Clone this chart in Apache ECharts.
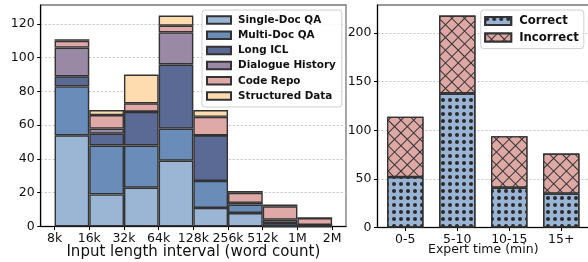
<!DOCTYPE html>
<html>
<head>
<meta charset="utf-8">
<script src="https://cdn.jsdelivr.net/npm/echarts@6/dist/echarts.min.js"></script>
<style>
  html, body { margin: 0; padding: 0; background: #fff; }
  #chart { width: 588px; height: 262px; }
</style>
</head>
<body>
<div id="chart"></div>
<script>
// left panel: task mix per input length bin
const lenEdges = ['8k', '16k', '32k', '64k', '128k', '256k', '512k', '1M', '2M'];
const singleDoc = [54, 19, 23, 39, 11, 8, 0, 0];
const multiDoc = [29, 29, 25, 19, 16, 5, 0, 0];
const longICL = [6, 7, 20, 38, 27, 1, 2, 1];
const dialogue = [17, 3, 0, 19, 0, 0, 2, 0];
const codeRepo = [4, 8, 5, 4, 11, 6, 8, 4];
const structured = [1, 3, 17, 6, 4, 1, 1, 0];
const leftTicks = [0, 20, 40, 60, 80, 100, 120];

// right panel: correctness per expert time
const timeBins = ['0-5', '5-10', '10-15', '15+'];
const correct = [52, 138, 41, 35];
const incorrect = [62, 80, 53, 41];
const rightTicks = [0, 50, 100, 150, 200];

const font = 'DejaVu Sans';
const edge = '#333';

// left grid geometry
const L = { left: 40.7, top: 5, width: 305.3, height: 221.5 };
const lxMin = -0.4, lxMax = 8.4;
const binPx = L.width / (lxMax - lxMin);
// right grid geometry
const R = { left: 377.5, top: 5, width: 211.6, height: 222.5 };
const rxMin = -0.535, rxMax = 3.535;
const rUnit = R.width / (rxMax - rxMin);

// data rows are [value, position] so the stacked dimension is the value one
const leftSeries = [
  ['Single-Doc QA', singleDoc, '#9bb5d5'],
  ['Multi-Doc QA', multiDoc, '#6a8cb8'],
  ['Long ICL', longICL, '#5b6a95'],
  ['Dialogue History', dialogue, '#9a89a4'],
  ['Code Repo', codeRepo, '#dea9a7'],
  ['Structured Data', structured, '#fedcb0']
].map(function (s) {
  return {
    name: s[0], type: 'bar', stack: 'len',
    xAxisIndex: 0, yAxisIndex: 0,
    barWidth: binPx,
    encode: { x: 1, y: 0 },
    data: s[1].map(function (v, i) { return [v, i + 0.5]; }),
    itemStyle: { color: s[2], borderColor: edge, borderWidth: 1.4 }
  };
});

const dots = {
  symbol: 'circle', color: '#2a2a2a', symbolSize: 1,
  dashArrayX: [3.4, 2.5], dashArrayY: [3.2, 2.1]
};
const cross = {
  symbol: 'rect', color: '#dea8a5', backgroundColor: '#333', symbolSize: 1,
  dashArrayX: [7.4, 1], dashArrayY: [7.4, 1], rotation: Math.PI / 4
};

const rightSeries = [
  ['Correct', correct, '#9ab4d6', dots],
  ['Incorrect', incorrect, '#dea8a5', cross]
].map(function (s) {
  return {
    name: s[0], type: 'bar', stack: 'time',
    xAxisIndex: 1, yAxisIndex: 1,
    barWidth: 0.7 * rUnit,
    encode: { x: 1, y: 0 },
    data: s[1].map(function (v, i) { return [v, i]; }),
    itemStyle: { color: s[2], borderColor: edge, borderWidth: 1.3, decal: s[3] }
  };
});

function yAxis(gi, max, ticks) {
  return {
    type: 'value', gridIndex: gi, min: 0, max: max, interval: ticks[1] - ticks[0],
    axisLine: { show: true, onZero: false, lineStyle: { color: '#000', width: 1.2 } },
    axisTick: { show: true, length: 3.5, customValues: ticks, lineStyle: { color: '#000' } },
    axisLabel: { customValues: ticks, margin: 6, color: '#111', fontSize: 12.5, fontFamily: font },
    splitLine: { show: true, lineStyle: { color: '#c4c4c4', type: [2, 2], width: 1 } }
  };
}

function xAxis(gi, min, max, labels, name, nameSize, nameGap) {
  const pos = labels.map(function (_, i) { return i; });
  return {
    type: 'value', gridIndex: gi, min: min, max: max,
    name: name, nameLocation: 'middle', nameGap: nameGap, nameMoveOverlap: false,
    nameTextStyle: { fontFamily: font, fontSize: nameSize, color: '#111', verticalAlign: 'top' },
    axisLine: { show: true, onZero: false, lineStyle: { color: '#000', width: 1.2 } },
    axisTick: { show: true, length: 3.5, customValues: pos, lineStyle: { color: '#000' } },
    axisLabel: {
      customValues: pos,
      formatter: function (v) { return labels[Math.round(v)]; },
      margin: 6, color: '#111', fontSize: 12.5, fontFamily: font
    },
    splitLine: { show: false }
  };
}

const option = {
  animation: false,
  backgroundColor: '#fff',
  grid: [
    Object.assign({ show: true, borderColor: '#777', borderWidth: 1.3, outerBoundsMode: 'none', containLabel: false }, L),
    Object.assign({ show: true, borderColor: '#777', borderWidth: 1.3, outerBoundsMode: 'none', containLabel: false }, R)
  ],
  legend: [
    {
      data: leftSeries.map(function (s) { return s.name; }),
      orient: 'vertical', left: 202, top: 10,
      itemWidth: 24, itemHeight: 7.5, itemGap: 3.2,
      padding: [4, 6, 5, 4],
      backgroundColor: 'rgba(255,255,255,0.85)',
      borderColor: '#d0d0d0', borderWidth: 1, borderRadius: 3,
      icon: 'rect',
      textStyle: { fontFamily: font, fontWeight: 'bold', fontSize: 10.4, lineHeight: 12, color: '#111', padding: [0, 0, 0, 2] }
    },
    {
      data: rightSeries.map(function (s) { return s.name; }),
      orient: 'vertical', left: 480.7, top: 10,
      itemWidth: 26, itemHeight: 8, itemGap: 3.6,
      padding: [4.5, 5, 4.5, 3.5],
      backgroundColor: 'rgba(255,255,255,0.85)',
      borderColor: '#d0d0d0', borderWidth: 1, borderRadius: 3,
      icon: 'rect',
      textStyle: { fontFamily: font, fontWeight: 'bold', fontSize: 11.7, lineHeight: 13, color: '#111', padding: [0, 0, 0, 3] }
    }
  ],
  xAxis: [
    xAxis(0, lxMin, lxMax, lenEdges, 'Input length interval (word count)', 15, 18),
    xAxis(1, rxMin, rxMax, timeBins, 'Expert time (min)', 12.5, 16)
  ],
  yAxis: [
    yAxis(0, 125 * 1.05, leftTicks),
    yAxis(1, 218 * 1.05, rightTicks)
  ],
  series: leftSeries.concat(rightSeries)
};

const chart = echarts.init(document.getElementById('chart'), null, { renderer: 'canvas' });
chart.setOption(option);
</script>
</body>
</html>
